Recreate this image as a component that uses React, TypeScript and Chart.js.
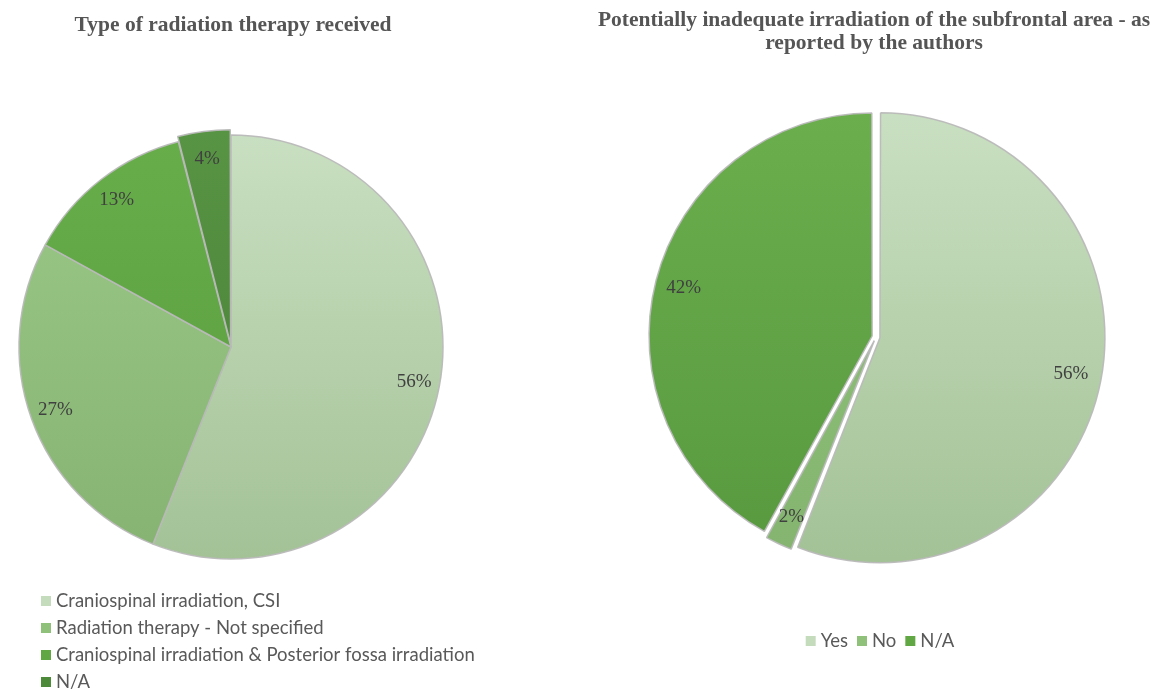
import React, { useEffect, useRef } from "react";
import { Chart, registerables } from "chart.js";

Chart.register(...registerables);

// ---------- data ----------
const leftTitleLines = ["Type of radiation therapy received"];
const leftCategories = [
  "Craniospinal irradiation, CSI",
  "Radiation therapy - Not specified",
  "Craniospinal irradiation & Posterior fossa irradiation",
  "N/A",
];
const leftValues = [56, 27, 13, 4];

const rightTitleLines = [
  "Potentially inadequate irradiation of the subfrontal area - as",
  "reported by the authors",
];
const rightCategories = ["Yes", "No", "N/A"];
const rightValues = [56, 2, 42];

// ---------- styles ----------
const leftTopColors = ["#c9dfc1", "#9bc988", "#67ae4a", "#579443"];
const leftBottomColors = ["#a3c296", "#86b371", "#5a9b40", "#497e37"];
const leftLegendColors = ["#c5dcbc", "#8fc17a", "#61a744", "#4d8a39"];
const leftOffsets = [0, 0, 0, 12];

const rightTopColors = ["#c9dfc1", "#92c57d", "#6aae4d"];
const rightBottomColors = ["#a3c296", "#84b46f", "#58993f"];
const rightLegendColors = ["#c5dcbc", "#8fc17a", "#61a744"];
const rightOffsets = [16, 16, 16];

const TITLE_FONT = "bold 21.5px 'Liberation Serif', 'Times New Roman', serif";
const LABEL_FONT = "19px 'Liberation Serif', 'Times New Roman', serif";
const LEGEND_FONT = "18.5px Lato, 'Open Sans', sans-serif";

type DecorOpts = {
  titles: { text: string; x: number; y: number }[];
  legend: {
    labels: string[];
    colors: string[];
    vertical: boolean;
    x: number;
    y: number;
    rowGap: number;
    itemGap: number;
  };
  labelFrac: number;
};

const decorPlugin = {
  id: "decor",
  afterDatasetsDraw(chart: any, _args: any, opts: DecorOpts) {
    const ctx: CanvasRenderingContext2D = chart.ctx;
    ctx.save();
    // titles
    ctx.fillStyle = "#555555";
    ctx.font = TITLE_FONT;
    ctx.textAlign = "center";
    ctx.textBaseline = "middle";
    opts.titles.forEach((t) => ctx.fillText(t.text, t.x, t.y));

    // data labels
    const meta = chart.getDatasetMeta(0);
    const values = chart.data.datasets[0].data as number[];
    ctx.font = LABEL_FONT;
    ctx.fillStyle = "#404040";
    meta.data.forEach((arc: any, i: number) => {
      const p = arc.getProps(["x", "y", "startAngle", "endAngle", "outerRadius"], true);
      const mid = (p.startAngle + p.endAngle) / 2;
      const off = (arc.options.offset || 0) / 4;
      const cx = p.x + Math.cos(mid) * off;
      const cy = p.y + Math.sin(mid) * off;
      const r = p.outerRadius * opts.labelFrac;
      ctx.fillText(values[i] + "%", cx + Math.cos(mid) * r, cy + Math.sin(mid) * r);
    });

    // legend
    const lg = opts.legend;
    ctx.font = LEGEND_FONT;
    ctx.textAlign = "left";
    ctx.textBaseline = "middle";
    const box = 10;
    const boxGap = 5;
    if (lg.vertical) {
      lg.labels.forEach((label, i) => {
        const y = lg.y + i * lg.rowGap;
        ctx.fillStyle = lg.colors[i];
        ctx.fillRect(lg.x, y - box / 2, box, box);
        ctx.fillStyle = "#595959";
        ctx.fillText(label, lg.x + box + boxGap, y);
      });
    } else {
      const widths = lg.labels.map((l) => box + boxGap + ctx.measureText(l).width);
      const total = widths.reduce((a, b) => a + b, 0) + lg.itemGap * (lg.labels.length - 1);
      let x = lg.x - total / 2;
      lg.labels.forEach((label, i) => {
        ctx.fillStyle = lg.colors[i];
        ctx.fillRect(x, lg.y - box / 2, box, box);
        ctx.fillStyle = "#595959";
        ctx.fillText(label, x + box + boxGap, lg.y);
        x += widths[i] + lg.itemGap;
      });
    }
    ctx.restore();
  },
};

function makeGradient(chart: any, i: number, top: string[], bottom: string[], radius: number) {
  const area = chart.chartArea;
  if (!area) return top[i];
  const cy = (area.top + area.bottom) / 2;
  const g = chart.ctx.createLinearGradient(0, cy - radius, 0, cy + radius);
  g.addColorStop(0, top[i]);
  g.addColorStop(1, bottom[i]);
  return g;
}

type PieProps = {
  width: number;
  height: number;
  left: number;
  labels: string[];
  values: number[];
  top: string[];
  bottom: string[];
  offsets: number[];
  radius: number;
  padding: { left: number; right: number; top: number; bottom: number };
  decor: DecorOpts;
};

function PieCanvas(props: PieProps) {
  const ref = useRef<HTMLCanvasElement>(null);
  useEffect(() => {
    if (!ref.current) return;
    const chart = new Chart(ref.current, {
      type: "pie",
      data: {
        labels: props.labels,
        datasets: [
          {
            data: props.values,
            radius: props.radius,
            backgroundColor: (c: any) =>
              makeGradient(c.chart, c.dataIndex, props.top, props.bottom, props.radius),
            borderColor: "rgba(185,185,185,0.95)",
            borderWidth: 1.5,
            offset: props.offsets,
          } as any,
        ],
      },
      options: {
        responsive: false,
        animation: false,
        devicePixelRatio: 1,
        layout: { padding: props.padding },
        plugins: {
          legend: { display: false },
          title: { display: false },
          tooltip: { enabled: false },
          decor: props.decor,
        } as any,
        events: [],
      },
      plugins: [decorPlugin as any],
    });
    return () => chart.destroy();
  }, []);
  return (
    <canvas
      ref={ref}
      width={props.width}
      height={props.height}
      style={{ position: "absolute", left: props.left, top: 0, width: props.width, height: props.height }}
    />
  );
}

export default function App() {
  if (typeof document !== "undefined") {
    document.body.style.margin = "0";
    document.body.style.background = "#ffffff";
  }
  return (
    <div style={{ position: "relative", width: 1156, height: 690, background: "#fff", overflow: "hidden" }}>
      <PieCanvas
        width={578}
        height={690}
        left={0}
        labels={leftCategories}
        values={leftValues}
        top={leftTopColors}
        bottom={leftBottomColors}
        offsets={leftOffsets}
        radius={212}
        padding={{ left: 0, right: 116, top: 100, bottom: 96 }}
        decor={{
          titles: leftTitleLines.map((t, i) => ({ text: t, x: 233, y: 25 + i * 22 })),
          legend: {
            labels: leftCategories,
            colors: leftLegendColors,
            vertical: true,
            x: 41,
            y: 601,
            rowGap: 27,
            itemGap: 0,
          },
          labelFrac: 0.88,
        }}
      />
      <PieCanvas
        width={578}
        height={690}
        left={578}
        labels={rightCategories}
        values={rightValues}
        top={rightTopColors}
        bottom={rightBottomColors}
        offsets={rightOffsets}
        radius={221}
        padding={{ left: 18, right: 0, top: 100, bottom: 116 }}
        decor={{
          titles: rightTitleLines.map((t, i) => ({ text: t, x: 296, y: 20 + i * 23 })),
          legend: {
            labels: rightCategories,
            colors: rightLegendColors,
            vertical: false,
            x: 302,
            y: 641,
            rowGap: 0,
            itemGap: 9,
          },
          labelFrac: 0.88,
        }}
      />
    </div>
  );
}
